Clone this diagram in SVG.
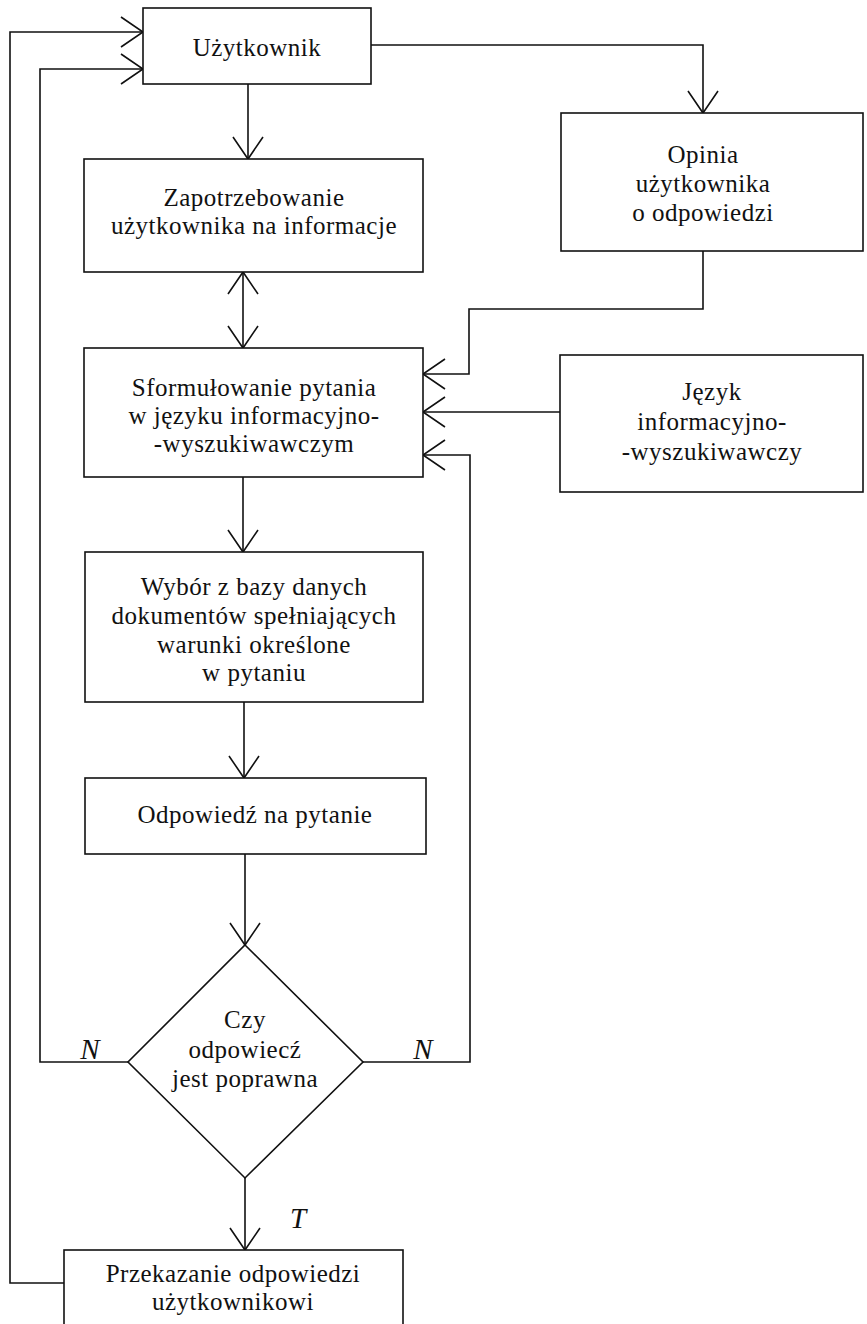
<svg xmlns="http://www.w3.org/2000/svg" width="867" height="1324" viewBox="0 0 867 1324">
<style>
.box{fill:#fff;stroke:#111;stroke-width:1.6}
.ln{fill:none;stroke:#111;stroke-width:1.6}
text{font-family:"Liberation Serif","Times New Roman",serif;font-size:25px;fill:#111;text-anchor:middle;letter-spacing:0.5px}
.it{font-style:italic;font-size:29px;letter-spacing:0}
</style>
<defs>
<marker id="v" markerUnits="userSpaceOnUse" markerWidth="40" markerHeight="40" viewBox="-30 -20 40 40" refX="0" refY="0" orient="auto-start-reverse">
<path d="M-22,-15 L0,0 L-22,15" fill="none" stroke="#111" stroke-width="1.6"/>
</marker>
</defs>
<rect width="867" height="1324" fill="#fff"/>
<g id="connectors">
<path class="ln" d="M248,84 V159" marker-end="url(#v)"/>
<path class="ln" d="M243,272 V348" marker-start="url(#v)" marker-end="url(#v)"/>
<path class="ln" d="M371,45 H703 V113" marker-end="url(#v)"/>
<path class="ln" d="M703,251 V309 H469 V374 H423" marker-end="url(#v)"/>
<path class="ln" d="M560,412 H423" marker-end="url(#v)"/>
<path class="ln" d="M363,1062 H470 V455 H423" marker-end="url(#v)"/>
<path class="ln" d="M243,477 V552" marker-end="url(#v)"/>
<path class="ln" d="M244,702 V778" marker-end="url(#v)"/>
<path class="ln" d="M245,854 V945" marker-end="url(#v)"/>
<path class="ln" d="M245,1178 V1250" marker-end="url(#v)"/>
<path class="ln" d="M128,1062 H40 V69 H143" marker-end="url(#v)"/>
<path class="ln" d="M64,1283 H10 V32 H143" marker-end="url(#v)"/>
<text class="it" x="90" y="1059">N</text>
<text class="it" x="423" y="1059">N</text>
<text class="it" x="298" y="1228">T</text>
</g>
<g id="uzytkownik">
<rect class="box" x="143" y="8" width="228" height="76"/>
<text x="257" y="56">Użytkownik</text>
</g>
<g id="zapotrzebowanie">
<rect class="box" x="84" y="159" width="339" height="113"/>
<text x="254" y="206">Zapotrzebowanie</text>
<text x="254" y="234">użytkownika na informacje</text>
</g>
<g id="opinia">
<rect class="box" x="561" y="113" width="302" height="138"/>
<text x="703" y="163">Opinia</text>
<text x="703" y="192">użytkownika</text>
<text x="703" y="221">o odpowiedzi</text>
</g>
<g id="sformulowanie">
<rect class="box" x="84" y="348" width="339" height="129"/>
<text x="254" y="396">Sformułowanie pytania</text>
<text x="254" y="424">w języku informacyjno-</text>
<text x="254" y="452">-wyszukiwawczym</text>
</g>
<g id="jezyk">
<rect class="box" x="560" y="355" width="303" height="137"/>
<text x="712" y="400">Język</text>
<text x="712" y="430">informacyjno-</text>
<text x="712" y="460">-wyszukiwawczy</text>
</g>
<g id="wybor">
<rect class="box" x="85" y="552" width="338" height="150"/>
<text x="254" y="595">Wybór z bazy danych</text>
<text x="254" y="624">dokumentów spełniających</text>
<text x="254" y="653">warunki określone</text>
<text x="254" y="681">w pytaniu</text>
</g>
<g id="odpowiedz">
<rect class="box" x="85" y="778" width="341" height="76"/>
<text x="255" y="823">Odpowiedź na pytanie</text>
</g>
<g id="decyzja">
<path class="box" d="M245,945 L363,1062 L245,1178 L128,1062 Z"/>
<text x="245" y="1028">Czy</text>
<text x="245" y="1058">odpowiecź</text>
<text x="245" y="1087">jest poprawna</text>
</g>
<g id="przekazanie">
<rect class="box" x="64" y="1250" width="339" height="90"/>
<text x="233" y="1282">Przekazanie odpowiedzi</text>
<text x="233" y="1310">użytkownikowi</text>
</g>
</svg>
